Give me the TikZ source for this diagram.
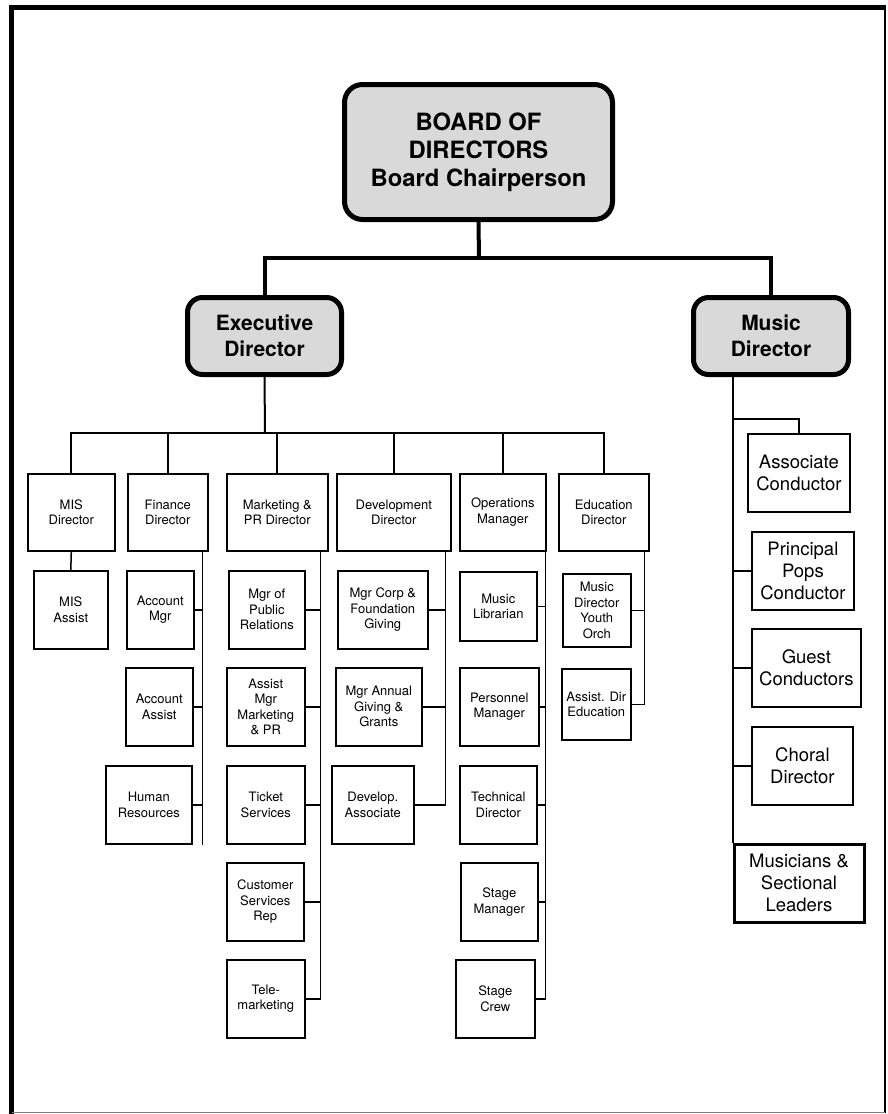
\documentclass[tikz,border=0pt]{standalone}
\usepackage{fontspec}
\setmainfont{TeX Gyre Heros}
\definecolor{boxfill}{gray}{0.85}
\begin{document}
\begin{tikzpicture}[x=1pt,y=-1pt,box/.style={draw=black,line width=1.6pt,inner sep=0pt,align=center,anchor=north west,font=\fontsize{13}{15.5}\selectfont},boxM/.style={box,line width=1.8pt,font=\fontsize{18.5}{21.7}\selectfont},boxB/.style={draw=black,line width=5pt,rounded corners=15pt,fill=boxfill,inner sep=0pt,align=center,font=\fontsize{21}{26}\selectfont\bfseries},link/.style={line width=1.5pt},bus/.style={line width=2pt},trunk/.style={line width=4pt}]
\def\h{77};
\def\hh{78};

\useasboundingbox (0,0) rectangle (887,1114);
\draw[line width=5pt] (11.5,1114) -- (11.5,7) -- (886,7);
\draw[line width=1.5pt] (885,7) -- (885,1112.5);
\draw[line width=1.5pt,gray] (11.5,1112.5) -- (885,1112.5);

\node[boxB,minimum width=268,minimum height=135,rounded corners=18pt,font=\fontsize{23.8}{28}\selectfont\bfseries] (board) at (478.5,152) {BOARD OF\\DIRECTORS\\Board Chairperson};
\node[boxB,minimum width=154,minimum height=77] (exec) at (264.5,336) {Executive\\Director};
\node[boxB,minimum width=155,minimum height=77] (music) at (771,336) {Music\\Director};

\coordinate (bb) at (479,258);
\draw[trunk] (board.south) -- (bb);
\draw[trunk] (exec.north) |- (bb) -| (music.north);

\node[box,minimum width=87,minimum height=\h] (mis) at (27,473) {MIS\\Director};
\node[box,minimum width=80,minimum height=\h] (fin) at (127,473) {Finance\\Director};
\node[box,minimum width=101,minimum height=\h] (mkt) at (226,473) {Marketing \&\\PR Director};
\node[box,minimum width=114,minimum height=\h] (dev) at (336,473) {Development\\Director};
\node[box,minimum width=86,minimum height=\h] (ops) at (459,473) {Operations\\Manager};
\node[box,minimum width=90,minimum height=\h] (edu) at (558,473) {Education\\Director};

\coordinate (eb) at (265,433);
\draw[bus] (exec.south) -- (eb);
\foreach \n in {mis,fin,mkt,dev,ops,edu}
  \draw[bus] (eb) -| (\n.north);

\node[box,minimum width=74,minimum height=\hh] (misA) at (33,570) {MIS\\Assist};
\draw[link] (mis.south) -- (misA.north);

\node[box,minimum width=67,minimum height=\hh] (accM) at (126,570) {Account\\Mgr};
\node[box,minimum width=67,minimum height=\hh] (accA) at (125,667) {Account\\Assist};
\node[box,minimum width=86,minimum height=\hh] (hr) at (105,765) {Human\\Resources};
\coordinate (fs) at ([xshift=-6pt]fin.south east);
\draw[link] (fs) -- (fs |- hr.south);
\foreach \n in {accM,accA,hr}
  \draw[link] (\n.east) -- (\n.east -| fs);

\node[box,minimum width=76,minimum height=\hh] (pr) at (228,570) {Mgr of\\Public\\Relations};
\node[box,minimum width=78,minimum height=\hh] (amk) at (226,667) {Assist\\Mgr\\Marketing\\\& PR};
\node[box,minimum width=78,minimum height=\hh] (tix) at (226,765) {Ticket\\Services};
\node[box,minimum width=77,minimum height=\hh] (csr) at (226,862) {Customer\\Services\\Rep};
\node[box,minimum width=78,minimum height=\hh] (tele) at (226,959) {Tele-\\marketing};
\coordinate (ms) at ([xshift=-8pt]mkt.south east);
\draw[link] (ms) -- (ms |- tele.east);
\foreach \n in {pr,amk,tix,csr,tele}
  \draw[link] (\n.east) -- (\n.east -| ms);

\node[box,minimum width=90,minimum height=\hh] (corp) at (337,570) {Mgr Corp \&\\Foundation\\Giving};
\node[box,minimum width=86,minimum height=\hh] (ann) at (335,667) {Mgr Annual\\Giving \&\\Grants};
\node[box,minimum width=82,minimum height=\hh] (dva) at (331,765) {Develop.\\Associate};
\coordinate (ds) at ([xshift=-6pt]dev.south east);
\draw[link] (ds) -- (ds |- dva.east);
\foreach \n in {corp,ann,dva}
  \draw[link] (\n.east) -- (\n.east -| ds);

\node[box,minimum width=77,minimum height=69] (lib) at (459,571) {Music\\Librarian};
\node[box,minimum width=79,minimum height=\hh] (pers) at (459,667) {Personnel\\Manager};
\node[box,minimum width=77,minimum height=\hh] (tech) at (459,765) {Technical\\Director};
\node[box,minimum width=77,minimum height=\hh] (stm) at (460,862) {Stage\\Manager};
\node[box,minimum width=79,minimum height=\hh] (crew) at (455,959) {Stage\\Crew};
\coordinate (os) at ([xshift=-1pt]ops.south east);
\draw[link] (os) -- (os |- crew.east);
\foreach \n in {lib,pers,tech,stm,crew}
  \draw[link] (\n.east) -- (\n.east -| os);

\node[box,minimum width=68,minimum height=73] (yth) at (562,573) {Music\\Director\\Youth\\Orch};
\node[box,minimum width=69,minimum height=71] (ade) at (561,668) {Assist. Dir\\Education};
\coordinate (es) at ([xshift=-5pt]edu.south east);
\draw[link] (es) -- (es |- ade.east);
\foreach \n in {yth,ade}
  \draw[link] (\n.east) -- (\n.east -| es);

\node[boxM,minimum width=102,minimum height=\hh] (assoc) at (747,433) {Associate\\Conductor};
\node[boxM,minimum width=102,minimum height=\hh] (pops) at (751,531) {Principal\\Pops\\Conductor};
\node[boxM,minimum width=109,minimum height=\hh] (guest) at (751,628) {Guest\\Conductors};
\node[boxM,minimum width=101,minimum height=\hh] (choral) at (751,726) {Choral\\Director};
\node[boxM,line width=3pt,minimum width=130,minimum height=\hh] (muso) at (732.5,842.5) {Musicians \&\\Sectional\\Leaders};
\coordinate (mj) at (732.5,419);
\draw[bus] (music.south -| muso.north west) -- (muso.north west);
\draw[bus] (mj) -| (assoc.north);
\foreach \n in {pops,guest,choral}
  \draw[bus] (\n.west) -- (\n.west -| mj);
\end{tikzpicture}
\end{document}
